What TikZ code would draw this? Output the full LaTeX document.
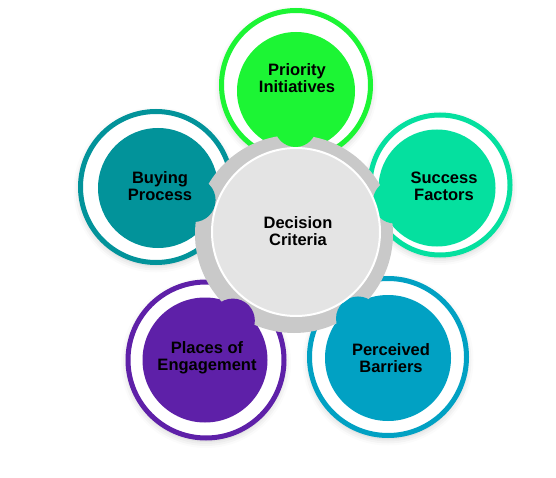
\documentclass[tikz,border=0pt]{standalone}
\usepackage{fontspec}
\setmainfont{Liberation Sans}
\usetikzlibrary{calc,shadows.blur}

\definecolor{cprio}{HTML}{1CF534}
\definecolor{cbuy}{HTML}{02939A}
\definecolor{csucc}{HTML}{05E09F}
\definecolor{cplace}{HTML}{5E20A8}
\definecolor{cbarr}{HTML}{01A1C3}
\definecolor{hubring}{HTML}{C9C9C9}
\definecolor{hubin}{HTML}{E4E4E4}

\tikzset{
  lbl/.style={font=\bfseries\fontsize{16.5}{17}\selectfont, align=center, text=black},
  ring/.style={line width=5pt, fill=white,
    blur shadow={shadow xshift=0pt, shadow yshift=-3pt, shadow opacity=22, shadow blur radius=7pt}},
}

\begin{document}
\begin{tikzpicture}[x=1pt,y=-1pt]
    \useasboundingbox (0,0) rectangle (556,478);

    \coordinate (hubc) at (294,234);
    \coordinate (prioc) at (296,91);
    \coordinate (buyc) at (158,188);
    \coordinate (succc) at (437,188);
    \coordinate (placec) at (205,360);
    \coordinate (barrc) at (388,358);

    % outer rings
    \draw[ring, draw=cprio] (296,85) circle[radius=74.5pt];
    \draw[ring, draw=cbuy] (156,187) circle[radius=75.5pt];
    \draw[ring, draw=csucc] (440,185) circle[radius=70pt];
    \draw[ring, draw=cplace] (206,360) circle[radius=78pt];
    \draw[ring, draw=cbarr] (388,357) circle[radius=78.5pt];

    % inner discs
    \fill[cprio] (prioc) circle[radius=59pt];
    \fill[cbuy] (buyc) circle[radius=60pt];
    \fill[csucc] (succc) circle[radius=58.5pt];
    \fill[cplace] (placec) circle[radius=62.5pt];
    \fill[cbarr] (barrc) circle[radius=63pt];

    % hub
    \fill[hubring] (hubc) circle[radius=99pt];

    % lobes
    \fill[cprio] ($(hubc)!108pt!(prioc)$) circle[radius=21pt];
    \fill[cbuy] ($(hubc)!106pt!(buyc)$) circle[radius=22pt];
    \fill[csucc] ($(hubc)!106pt!(succc)$) circle[radius=22pt];
    \fill[cplace] ($(hubc)!106pt!(placec)$) circle[radius=22pt];
    \fill[cbarr] ($(hubc)!106pt!(barrc)$) circle[radius=22pt];

    \draw[white, line width=2pt, fill=hubin] (296,232) circle[radius=84pt];

    % labels
    \node[lbl] (prio) at (297,78) {Priority\\Initiatives};
    \node[lbl] (buy) at (160,186) {Buying\\Process};
    \node[lbl] (succ) at (444,186) {Success\\Factors};
    \node[lbl] (dec) at (298,231) {Decision\\Criteria};
    \node[lbl] (place) at (207,358) {Places of\\Engagement};
    \node[lbl] (barr) at (391,358) {Perceived\\Barriers};
\end{tikzpicture}
\end{document}
